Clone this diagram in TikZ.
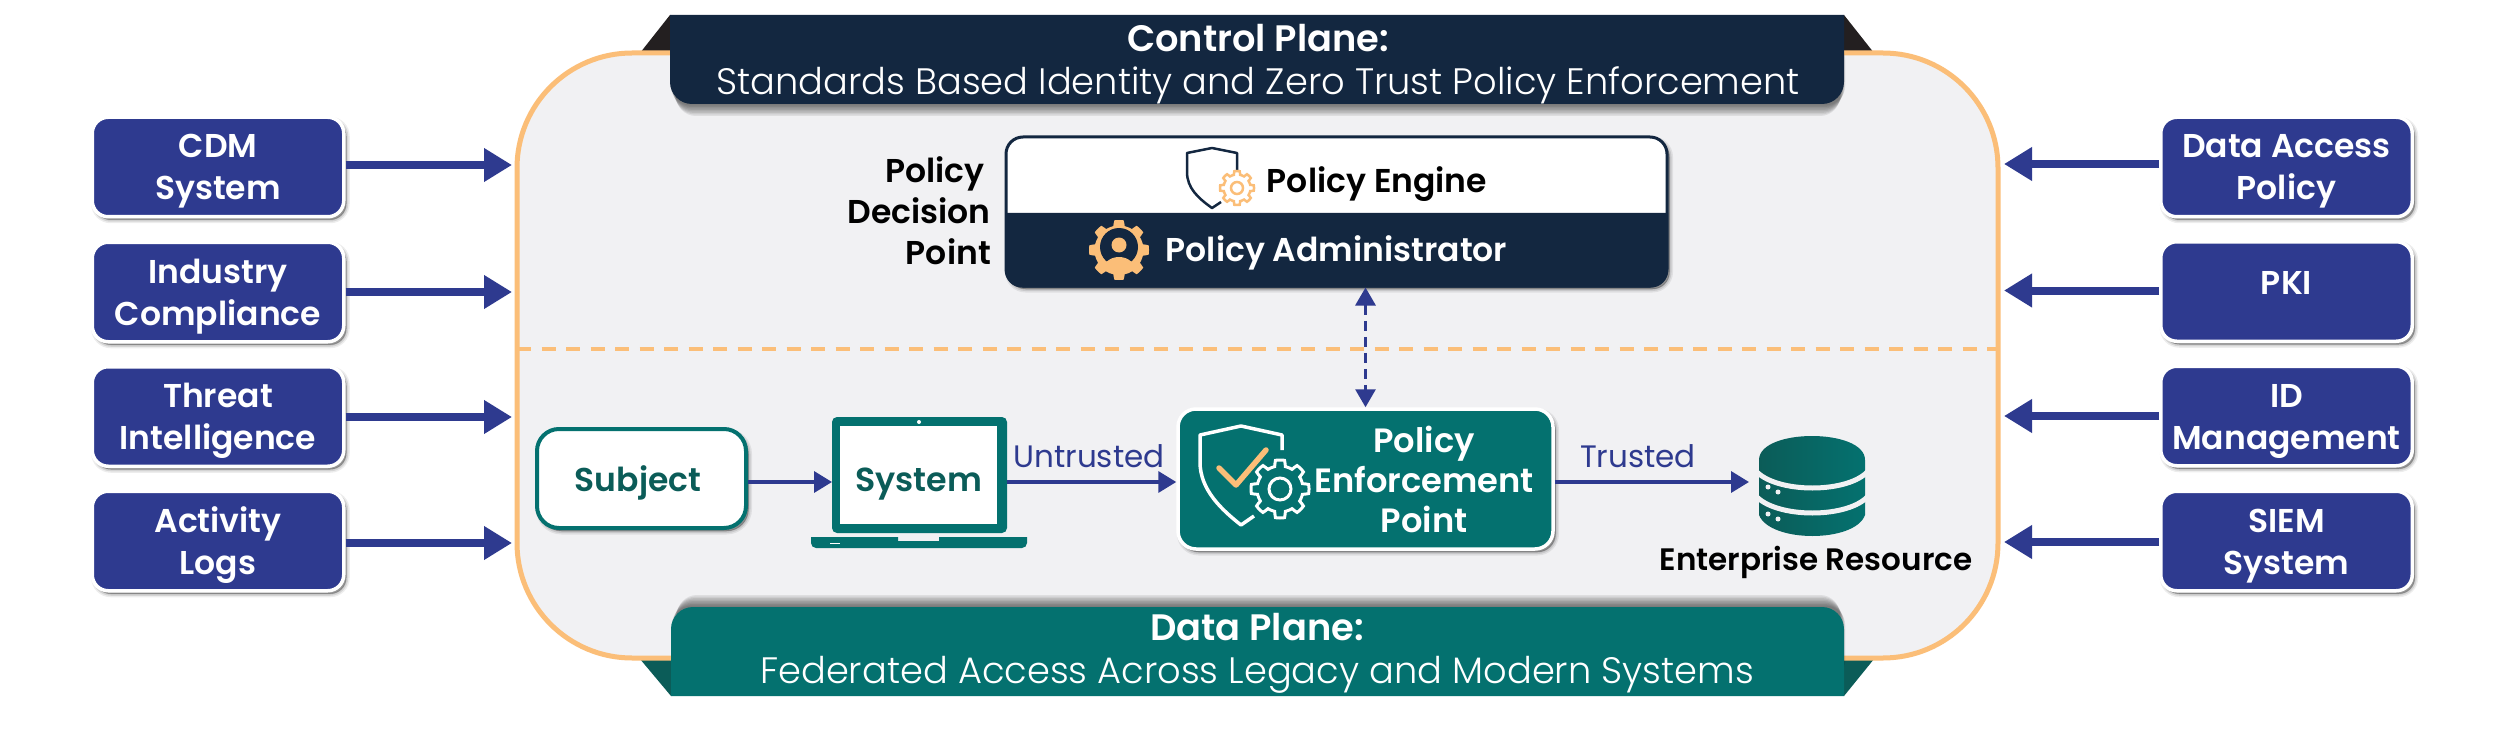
\documentclass[tikz,border=0pt]{standalone}
\usepackage{fontspec}
\setmainfont{Poppins}
\newfontfamily\psemi{Poppins SemiBold}
\newfontfamily\plight{Poppins Light}
\usetikzlibrary{arrows.meta}
\definecolor{navy}{HTML}{132740}
\definecolor{indigo}{HTML}{2E3A8F}
\definecolor{teal2}{HTML}{04716F}
\definecolor{tealdk}{HTML}{0B5C58}
\definecolor{orng}{HTML}{FBBE78}
\definecolor{panelc}{HTML}{F1F1F3}
\definecolor{blk2}{HTML}{231F20}
\newcommand{\gearpath}[4]{plot[domain=0:360,samples=161,variable=\t] ({#1+(#4+(#3-#4)*max(0,min(1,0.5+1.6*cos(8*\t))))*cos(\t)},{#2+(#4+(#3-#4)*max(0,min(1,0.5+1.6*cos(8*\t))))*sin(\t)}) -- cycle}
\newcommand{\twol}[2]{\raisebox{9pt}[0pt][0pt]{\begin{tabular}[t]{@{}c@{}}#1\\#2\end{tabular}}}
\tikzset{
  softshadow/.style={
    preaction={draw=black,fill=black,opacity=.07,line width=7pt,transform canvas={xshift=2.5pt,yshift=-3pt}},
    preaction={draw=black,fill=black,opacity=.10,line width=4pt,transform canvas={xshift=2.5pt,yshift=-3pt}},
    preaction={draw=black,fill=black,opacity=.15,line width=1pt,transform canvas={xshift=2.5pt,yshift=-3pt}}},
  sidebox/.style={softshadow,rectangle,rounded corners=16pt,fill=indigo,draw=white,line width=3.5pt,text=white,
    minimum width=251.5pt,minimum height=99.5pt,inner sep=0pt,
    font=\psemi\fontsize{33}{42}\selectfont},
  flowbig/.style={draw=indigo,line width=8pt,-{Triangle[length=28pt,width=32pt]}},
  flowthin/.style={draw=indigo,line width=3.5pt,-{Triangle[length=18pt,width=21pt]}},
  edgelabel/.style={text=indigo,font=\fontsize{31}{35}\selectfont,inner sep=0pt},
  headertext/.style={text=white,align=center,inner sep=0pt,font=\fontsize{36.8}{43}\selectfont},
  darklabel/.style={text=black,inner sep=0pt,anchor=base east,font=\psemi\fontsize{33}{40}\selectfont},
}
\begin{document}
\begin{tikzpicture}[x=1pt,y=-1pt]
\useasboundingbox (0,0) rectangle (2500,730);
\fill[white] (0,0) rectangle (2500,730);
% ribbon folds
\fill[blk2] (640,53) -- (670,15) -- (670,53) -- cycle;
\fill[blk2] (1874,53) -- (1844,15) -- (1844,53) -- cycle;
\fill[tealdk] (640,659) -- (671,696) -- (671,659) -- cycle;
\fill[tealdk] (1874,659) -- (1844,696) -- (1844,659) -- cycle;
% panel
\node[draw=orng,fill=panelc,line width=5pt,rounded corners=115pt,minimum width=1481pt,minimum height=605pt,inner sep=0pt] (panel) at (1257.5,355.5) {};
\coordinate (divL) at (517,349);
\coordinate (divR) at (1998,349);
\draw[orng,line width=4.5pt,dash pattern=on 14pt off 10.5pt] (divL) -- (divR);
% control plane header
\foreach \d in {1.5,3,...,12} \fill[black,opacity=.08,rounded corners=20pt] (670+\d/2,40) rectangle (1844-\d/2+2,104+\d);
\fill[navy] (670,15) [rounded corners=22pt] -- (670,104) -- (1844,104) [sharp corners] -- (1844,15) -- cycle;
\node[headertext] (ctrl) at (1258,64) {{\psemi Control Plane:}\\{\plight Standards Based Identity and Zero Trust Policy Enforcement}};
% data plane header
\foreach \d in {1.5,3,...,12} \fill[black,opacity=.08,rounded corners=20pt] (671+\d/2,607-\d) rectangle (1844-\d/2+2,680);
\fill[teal2] (671,696) [rounded corners=22pt] -- (671,607) -- (1844,607) [sharp corners] -- (1844,696) -- cycle;
\node[headertext] (dataplane) at (1257,653) {{\psemi Data Plane:}\\{\plight Federated Access Across Legacy and Modern Systems}};
% left boxes
\node[sidebox] (cdm) at (218,167) {\twol{CDM}{System}};
\node[sidebox] (ind) at (218,292) {\twol{Industry}{Compliance}};
\node[sidebox] (thr) at (218,416.5) {\twol{Threat}{Intelligence}};
\node[sidebox] (act) at (218,541) {\twol{Activity}{Logs}};
\coordinate (cdmend) at (512,165);
\coordinate (indend) at (512,292);
\coordinate (thrend) at (512,417);
\coordinate (actend) at (512,543);
\draw[flowbig] (cdm.east |- cdmend) -- (cdmend);
\draw[flowbig] (ind.east |- indend) -- (indend);
\draw[flowbig] (thr.east |- thrend) -- (thrend);
\draw[flowbig] (act.east |- actend) -- (actend);
% right boxes
\node[sidebox] (dap) at (2286.5,167) {\twol{Data Access}{Policy}};
\node[sidebox] (pki) at (2286.5,291.5) {\raisebox{-3pt}[0pt][0pt]{PKI}};
\node[sidebox] (idm) at (2286.5,416) {\twol{ID}{Management}};
\node[sidebox] (siem) at (2286.5,541) {\twol{SIEM}{System}};
\coordinate (dapend) at (2004,164);
\coordinate (pkiend) at (2004,290.5);
\coordinate (idmend) at (2004,416);
\coordinate (siemend) at (2004,542);
\draw[flowbig] (dap.west |- dapend) -- (dapend);
\draw[flowbig] (pki.west |- pkiend) -- (pkiend);
\draw[flowbig] (idm.west |- idmend) -- (idmend);
\draw[flowbig] (siem.west |- siemend) -- (siemend);
% policy decision point
\node[softshadow,draw=navy,fill=white,line width=3pt,rounded corners=17pt,minimum width=661pt,minimum height=149pt,inner sep=0pt] (pdp) at (1336.5,211.5) {};
\fill[navy] (1005,213) [rounded corners=17pt] -- (1005,287.5) -- (1668,287.5) [sharp corners] -- (1668,213) -- cycle;
\node[darklabel] (pdpa) at (985,183) {Policy};
\node[darklabel] (pdpb) at (991,223) {Decision};
\node[darklabel] (pdpc) at (991,264) {Point};
\node[inner sep=0pt,text=black,font=\psemi\fontsize{33}{37}\selectfont] (pe) at (1377,184) {Policy Engine};
\node[inner sep=0pt,text=white,font=\psemi\fontsize{33}{37}\selectfont] (pa) at (1336.5,253) {Policy Administrator};
% engine icon
\draw[navy,line width=2.5pt,line join=round] (1237,170) -- (1237,153) -- (1212,148) -- (1187,153) -- (1187,172) .. controls (1187,188) and (1198,198) .. (1212,208) -- (1221,202);
\draw[orng,line width=2.5pt,fill=white] \gearpath{1237}{188}{17}{13.5};
\draw[orng,line width=2.5pt] (1237,188) circle (6);
% administrator icon
\fill[orng] \gearpath{1119}{250}{30}{24.5};
\fill[navy] (1119,247) circle (19);
\begin{scope}
\clip (1119,250) circle (25);
\fill[orng] (1119,245) circle (7.5);
\fill[orng] (1119,272) ellipse (17 and 15);
\end{scope}
% flow row
\coordinate (flow) at (0,482);
\node[softshadow,draw=teal2,fill=white,line width=4pt,rounded corners=22pt,minimum width=209pt,minimum height=99pt,inner sep=0pt,text=tealdk,font=\psemi\fontsize{33}{38}\selectfont] (subject) at (641.5,478.5) {\hspace*{-7pt}\raisebox{-12.5pt}[0pt][0pt]{Subject}};
\node[fill=teal2,rounded corners=5pt,minimum width=175pt,minimum height=116pt,inner sep=0pt,outer sep=0pt] (sysframe) at (919.5,475) {};
\node[fill=white,minimum width=157pt,minimum height=98pt,inner sep=0pt,outer sep=0pt,text=tealdk,font=\psemi\fontsize{33.3}{38}\selectfont] (sysscreen) at (918.5,475) {\raisebox{-16pt}[0pt][0pt]{System}};
\fill[white] (919,422) circle (2);
\fill[teal2] (811,537) -- (898,537) -- (898,541) -- (939,541) -- (939,537) -- (1027,537) [rounded corners=5pt] -- (1027,548) -- (811,548) [sharp corners] -- cycle;
\fill[white] (830,542.5) rectangle (840,544);
\draw[flowthin] (subject.east |- flow) -- (sysframe.west |- flow);
\node[softshadow,draw=white,fill=teal2,line width=3.5pt,rounded corners=18pt,minimum width=375pt,minimum height=140pt,inner sep=0pt] (pep) at (1365.5,479) {};
\node[inner sep=0pt,text=white,align=center,font=\psemi\fontsize{33.7}{40}\selectfont] (peptext) at (1424,479) {Policy\\Enforcement\\Point};
\coordinate (dbin) at (1749,482);
\draw[flowthin] (sysframe.east |- flow) -- (pep.west |- flow) ;
\node[edgelabel] (untrusted) at (1089,456) {Untrusted};
\draw[flowthin] (pep.east |- flow) -- (dbin);
\node[edgelabel] (trusted) at (1638,456) {Trusted};
\draw[indigo,line width=3pt,dash pattern=on 10pt off 6pt,{Triangle[length=18pt,width=20pt]}-{Triangle[length=18pt,width=20pt]}] (pep.north |- pdp.south) -- (pep.north);
% enforcement icon
\draw[white,line width=3.5pt,line join=round] (1282,450) -- (1282,435) -- (1241,426) -- (1200,435) -- (1200,462) .. controls (1200,490) and (1222,510) .. (1241,525) -- (1254,516);
\draw[orng,line width=5.5pt,line join=round,line cap=round] (1219,468) -- (1236,485) -- (1266,450);
\draw[white,line width=3pt,fill=teal2] \gearpath{1280}{489}{29}{23};
\draw[white,line width=3pt] (1280,489) circle (11);
% database
\shade[left color=tealdk,right color=teal2] (1759,460) -- (1759,515) .. controls (1770,543) and (1855,543) .. (1865,515) -- (1865,460) .. controls (1865,428) and (1759,428) .. (1759,460) -- cycle;
\draw[panelc,line width=5pt] (1755,470) .. controls (1775,494) and (1850,494) .. (1869,470);
\draw[panelc,line width=5pt] (1755,495) .. controls (1775,519) and (1850,519) .. (1869,495);
\foreach \a/\b in {1768/487,1778/492,1768/514,1778/519} \fill[panelc] (\a,\b) circle (2.5);
\node[inner sep=0pt,text=black,font=\psemi\fontsize{31}{35}\selectfont] (entres) at (1816,562) {Enterprise Resource};
\end{tikzpicture}
\end{document}
